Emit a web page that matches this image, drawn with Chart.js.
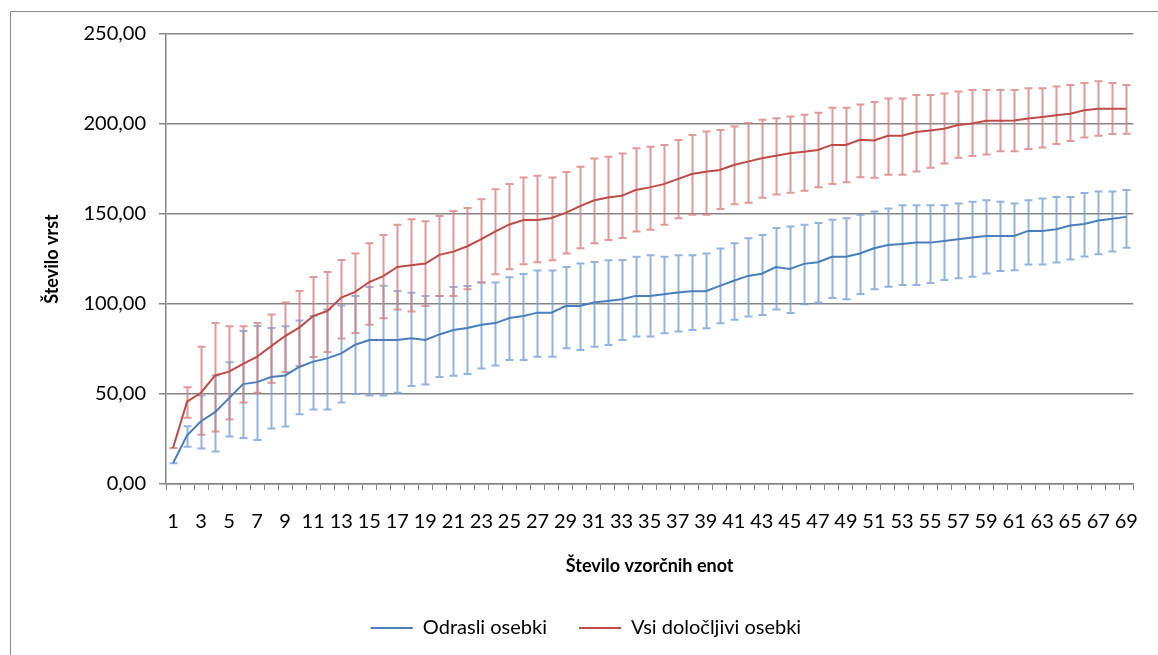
<!DOCTYPE html>
<html>
<head>
<meta charset="utf-8">
<script src="https://cdn.jsdelivr.net/npm/chart.js@4"></script>
<style>
  body { margin: 0; background: #fff; }
  #wrap { position: relative; width: 1158px; height: 655px; overflow: hidden; }
  #frame { position: absolute; left: 10px; top: 11px; width: 1300px; height: 800px;
           border-left: 1.5px solid #8a8a8a; border-top: 1.5px solid #8a8a8a; }
  #chart { position: absolute; left: 0; top: 0; }
</style>
</head>
<body>
<div id="wrap">
  <div id="frame"></div>
  <canvas id="chart" width="1158" height="655"></canvas>
</div>
<script>
// --- Datos ---
const enote = Array.from({ length: 69 }, (_, i) => String(i + 1));

// Odrasli osebki
const odrasli = [11.5, 27, 34.9, 39.9, 47.7, 55.5, 56.6, 59.4, 60.3, 65,
  68, 69.8, 72.6, 77.4, 80, 80, 80, 80.9, 80, 83.1,
  85.5, 86.7, 88.5, 89.4, 92.2, 93.3, 95.2, 95.2, 98.9, 98.9,
  100.8, 101.7, 102.6, 104.5, 104.5, 105.4, 106.4, 107.1, 107.1, 110.1,
  112.9, 115.6, 116.8, 120.5, 119.5, 122.3, 123.2, 126.2, 126.2, 128.1,
  131, 132.8, 133.4, 134.1, 134.1, 135, 136, 136.9, 137.8, 137.8,
  137.8, 140.6, 140.6, 141.5, 143.6, 144.5, 146.4, 147.3, 148.4];
const odrasliZg = [11.5, 32.1, 49.2, 60.3, 67.7, 85, 87.8, 86.7, 87.6, 90.8,
  93.3, 97, 99.1, 104.5, 109.5, 110.2, 107.2, 106.3, 104.5, 104.5,
  109.5, 110, 111.9, 111.9, 114.8, 116.7, 118.6, 118.6, 120.6, 122.5,
  123.4, 124.3, 124.4, 126.2, 127.1, 126.2, 127.1, 127.1, 128.1, 130.9,
  133.7, 136.5, 138.3, 142.2, 143.1, 144, 145, 146.8, 147.7, 149.6,
  151.4, 153, 154.9, 154.9, 154.9, 154.9, 155.8, 156.8, 157.7, 156.8,
  155.8, 157.7, 158.6, 159.5, 159.5, 161.6, 162.5, 162.5, 163.4];
const odrasliSp = [11.5, 20.7, 19.7, 18.1, 26.4, 25.5, 24.4, 30.9, 32, 38.8,
  41.4, 41.4, 45.3, 50, 49.2, 49.2, 50.7, 54.4, 55.3, 59.4,
  60.2, 61.1, 64.1, 65.9, 68.9, 68.9, 70.7, 70.7, 75.4, 74.4,
  76.3, 77.2, 80, 81.9, 81.9, 83.7, 84.7, 85.6, 86.5, 89.3,
  91.2, 93, 93.9, 96.9, 95, 99.9, 100.8, 103.4, 102.7, 105.6,
  108.2, 109.6, 110.6, 110.6, 111.7, 113.4, 114.3, 115.2, 117, 118.3,
  118.8, 121.9, 121.9, 123, 124.7, 126.4, 127.6, 129.1, 131.3];

// Vsi določljivi osebki
const vsi = [20, 45.7, 50.7, 60.3, 62.4, 66.8, 70.7, 76.6, 82.2, 86.9,
  93.3, 96.1, 103.6, 106.7, 112.2, 115.5, 120.6, 121.5, 122.5, 127.3,
  129.1, 132.1, 136, 140.3, 144.2, 146.7, 146.7, 147.8, 150.6, 154.2,
  157.5, 159.2, 160.1, 163.3, 164.8, 166.6, 169.4, 172.2, 173.5, 174.5,
  177.2, 179.1, 181, 182.4, 183.7, 184.6, 185.6, 188.4, 188.4, 191.2,
  190.9, 193.5, 193.5, 195.5, 196.4, 197.4, 199.4, 200.3, 201.8, 201.8,
  202, 203, 203.9, 204.8, 205.7, 207.6, 208.5, 208.5, 208.5];
const vsiZg = [20, 53.8, 76.3, 89.4, 87.6, 87.6, 89.4, 94.1, 100.9, 107.2,
  115, 117.8, 124.5, 128, 133.8, 138.4, 144, 147.1, 146, 148.9,
  151.7, 153.4, 158.2, 163.8, 166.6, 170.3, 171.2, 170.3, 173.4, 176.2,
  180.9, 181.8, 183.6, 186.5, 187.4, 188.3, 191.1, 193.9, 195.8, 196.7,
  198.6, 200.5, 202.3, 203.2, 204.1, 205.2, 206.2, 209, 209, 210.8,
  212.2, 214.1, 214.1, 216.1, 216.1, 217, 218, 218.9, 218.9, 218.9,
  218.9, 219.8, 219.8, 220.8, 221.7, 222.8, 223.7, 222.8, 221.7];
const vsiSp = [20, 36.8, 27.4, 29.2, 35.9, 45.3, 50.7, 56.3, 62.2, 65.5,
  70.5, 73.3, 80.9, 83.9, 88.5, 92.1, 97, 95.9, 98.9, 104.5,
  104.5, 108.2, 111.9, 116.5, 119.3, 122.1, 123.2, 124.3, 128, 131,
  133.8, 135.6, 136.6, 140.3, 141.2, 144, 147.7, 149.6, 149.6, 152.8,
  155.4, 156.3, 159, 160.9, 161.8, 162.9, 164.8, 166.7, 167.6, 170.4,
  170.1, 171.8, 171.8, 173.6, 175.7, 178, 181.2, 182.2, 183.1, 184.8,
  184.8, 186.1, 186.9, 188.9, 190.6, 192.5, 193.5, 194.5, 194.6];

const yTicks = [0, 50, 100, 150, 200, 250];

const FONT = 'Lato, "Open Sans", sans-serif';
const GRID = '#868686';

// --- Intervali napake (narisani prek skal grafa) ---
const errorBars = {
  id: 'errorBars',
  beforeDatasetsDraw(chart) {
    const { ctx, scales: { x, y } } = chart;
    ctx.save();
    chart.data.datasets.forEach(ds => {
      ctx.strokeStyle = ds.errColor;
      ctx.lineWidth = 2;
      ds.data.forEach((v, i) => {
        const px = Math.round(x.getPixelForValue(i)) + 0.5;
        const top = y.getPixelForValue(ds.hi[i]);
        const bot = y.getPixelForValue(ds.lo[i]);
        ctx.beginPath();
        ctx.moveTo(px, top); ctx.lineTo(px, bot);
        ctx.moveTo(px - 4, top); ctx.lineTo(px + 4, top);
        ctx.moveTo(px - 4, bot); ctx.lineTo(px + 4, bot);
        ctx.stroke();
      });
    });
    ctx.restore();
  }
};

new Chart(document.getElementById('chart'), {
  type: 'line',
  data: {
    labels: enote,
    datasets: [
      {
        label: 'Odrasli osebki',
        data: odrasli, hi: odrasliZg, lo: odrasliSp,
        borderColor: '#4a7ebb', backgroundColor: '#4a7ebb',
        errColor: 'rgba(120,160,214,0.8)',
        borderWidth: 2, pointRadius: 0, tension: 0
      },
      {
        label: 'Vsi določljivi osebki',
        data: vsi, hi: vsiZg, lo: vsiSp,
        borderColor: '#be4b48', backgroundColor: '#be4b48',
        errColor: 'rgba(214,128,126,0.8)',
        borderWidth: 2, pointRadius: 0, tension: 0
      }
    ]
  },
  options: {
    responsive: false,
    animation: false,
    devicePixelRatio: 1,
    layout: { padding: { left: 29, right: 15, top: 34, bottom: 7 } },
    scales: {
      x: {
        offset: true,
        afterFit: s => { s.height = 102; },
        grid: { offset: true, drawOnChartArea: false, color: GRID, lineWidth: 1, tickLength: 6 },
        border: { color: GRID, width: 1.5 },
        ticks: {
          autoSkip: false, maxRotation: 0, padding: 20, color: '#000',
          font: { family: FONT, size: 20 },
          callback: (v, i) => (i % 2 === 0 ? enote[i] : '')
        },
        title: {
          display: true, text: 'Število vzorčnih enot', color: '#000',
          font: { family: FONT, size: 18, weight: 'bold' },
          padding: { top: 0, bottom: 9 }
        }
      },
      y: {
        min: 0, max: 250,
        afterFit: s => { s.width = 137; },
        afterBuildTicks: s => { s.ticks = yTicks.map(v => ({ value: v })); },
        grid: { color: GRID, lineWidth: 1.5, tickLength: 7 },
        border: { color: GRID, width: 1.5 },
        ticks: {
          padding: 13, color: '#000',
          font: { family: FONT, size: 20 },
          callback: v => v.toFixed(2).replace('.', ',')
        },
        title: {
          display: true, text: 'Število vrst', color: '#000',
          font: { family: FONT, size: 18, weight: 'bold', lineHeight: 1 },
          padding: { top: 14, bottom: 0 }
        }
      }
    },
    plugins: {
      legend: {
        position: 'bottom',
        labels: {
          boxWidth: 42, boxHeight: 2, padding: 32, color: '#000',
          font: { family: FONT, size: 20 },
          generateLabels: chart => Chart.defaults.plugins.legend.labels.generateLabels(chart)
            .map(l => ({ ...l, lineWidth: 0, fillStyle: l.strokeStyle }))
        }
      },
      tooltip: { enabled: false }
    }
  },
  plugins: [errorBars]
});
</script>
</body>
</html>
